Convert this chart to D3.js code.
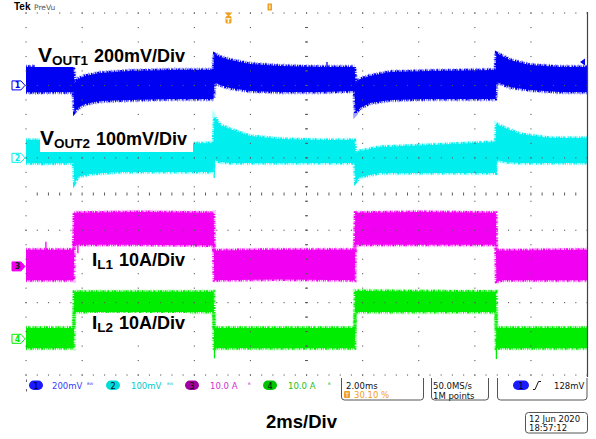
<!DOCTYPE html>
<html>
<head>
<meta charset="utf-8">
<script src="https://cdn.jsdelivr.net/npm/d3@7"></script>
<style>
  html, body { margin: 0; padding: 0; background: #fff; }
  svg { display: block; }
</style>
</head>
<body>
<svg id="scope" width="596" height="439"></svg>
<script>
// ---- Acquisition settings ----
const timeDomainMs = [0, 20];           // 10 div x 2 ms/div
const verticalDomainDiv = [-2.5, 2.5];

// ---- Trace envelopes: [time (ms), upper edge, lower edge] ----
// CH1, VOUT1 in mV (AC coupled, 200 mV/div)
const vout1Env = [
  [0.00, 50.8, -18.2], [0.40, 52.0, -19.5], [1.00, 50.8, -18.0], [1.69, 50.8, -19.0],
  [1.73, 6.6, -73.5], [1.85, 17.7, -62.4], [2.10, 26.0, -51.4], [2.64, 34.2, -43.1],
  [3.71, 39.8, -40.3], [5.13, 42.5, -37.6], [6.68, 42.5, -37.6],
  [6.72, 86.7, 9.4], [6.92, 78.4, 1.1], [7.27, 70.2, -7.2], [7.99, 59.1, -15.5],
  [9.06, 53.6, -18.2], [10.48, 50.8, -18.2], [11.71, 50.8, -15.5],
  [11.75, 6.6, -76.2], [11.91, 17.7, -62.4], [12.26, 26.0, -48.6], [12.98, 37.0, -40.3],
  [14.40, 39.8, -37.6], [16.74, 42.5, -37.6],
  [16.77, 89.5, 9.4], [17.25, 70.2, -4.4], [17.96, 56.3, -12.7], [19.04, 50.8, -18.2],
  [20.00, 50.8, -18.2]
];
// CH2, VOUT2 in mV (AC coupled, 100 mV/div)
const vout2Env = [
  [0.00, 24.6, -7.2], [0.60, 24.6, -8.0], [1.69, 23.2, -7.2],
  [1.73, 8.0, -34.8], [1.85, 10.8, -26.5], [2.28, 13.5, -22.4], [3.35, 16.3, -19.6],
  [5.13, 19.1, -19.6], [6.68, 20.4, -19.6],
  [6.72, 56.3, -3.0], [6.92, 45.3, -5.8], [7.27, 39.8, -7.2], [7.99, 30.1, -7.2],
  [9.06, 26.0, -7.2], [10.48, 24.6, -7.2], [11.71, 24.6, -7.2],
  [11.75, 6.6, -33.4], [11.91, 9.4, -26.5], [12.62, 14.9, -21.0], [14.40, 17.7, -21.0],
  [16.74, 21.8, -21.0],
  [16.77, 46.7, -3.0], [17.08, 41.2, -5.8], [17.61, 32.9, -7.2], [18.68, 27.3, -7.2],
  [20.00, 27.3, -7.2]
];
// CH3, IL1 in A (10 A/div)
const il1Env = [
  [0.00, 2.3, -1.9], [1.70, 2.3, -1.9],
  [1.72, 7.4, 3.0], [4.00, 7.5, 3.0], [6.69, 7.4, 2.9],
  [6.71, 2.2, -1.9], [9.00, 2.3, -1.8], [11.72, 2.3, -1.9],
  [11.74, 7.4, 3.0], [14.00, 7.5, 3.0], [16.75, 7.4, 3.0],
  [16.77, 2.2, -2.1], [17.00, 2.2, -1.9], [20.00, 2.3, -1.9]
];
// CH4, IL2 in A (10 A/div)
const il2Env = [
  [0.00, 1.5, -1.3], [1.70, 1.5, -1.3],
  [1.72, 6.5, 3.7], [6.69, 6.5, 3.7],
  [6.71, 1.5, -1.3], [11.72, 1.5, -1.3],
  [11.74, 6.6, 3.7], [16.75, 6.5, 3.7],
  [16.77, 1.5, -1.3], [20.00, 1.5, -1.3]
];

// ---- Isolated spikes: [time (ms), peak value] ----
const vout1Spikes = [[10.73, 64.6]];
const vout2Spikes = [[6.71, -27.9], [16.76, -23.8]];
const il1Spikes = [[0.71, 3.4], [1.85, 1.8]];
const il2Spikes = [[6.72, -2.7], [16.77, -2.8]];

// ---- Channel settings ----
const channelIds = ["1", "2", "3", "4"];
const channelPerDiv = [200, 100, 10, 10];
const channelOffsetDiv = [1.5, 0.5, -1, -2];
const channelReadouts = ["200mV", "100mV", "10.0 A", "10.0 A"];
const channelColors = ["#0000f2", "#00eeee", "#f200f2", "#00ec00"];
const channelFringe = ["#6060ff", "#90ffff", "#ff90ff", "#90ff90"];

// ---- Annotation text ----
const traceLabelMain = ["V", "V", "I", "I"];
const traceLabelSub = ["OUT1", "OUT2", "L1", "L2"];
const traceLabelScale = ["200mV/Div", "100mV/Div", "10A/Div", "10A/Div"];
const timebaseLabel = "2ms/Div";
const horizontalReadout = ["2.00ms", "30.10 %"];
const acquisitionReadout = ["50.0MS/s", "1M points"];
const triggerReadout = "128mV";
const dateReadout = ["12 Jun  2020", "18:57:12"];

// ---------------------------------------------------------------
const svg = d3.select("#scope");
const x = d3.scaleLinear().domain(timeDomainMs).range([26, 587]);
const y = d3.scaleLinear().domain(verticalDomainDiv).range([375, 13]);
const statusFont = "DejaVu Sans, sans-serif";
const labelFont = "Liberation Sans, Arial, sans-serif";

svg.append("defs").append("clipPath").attr("id", "screen")
  .append("rect").attr("x", 26).attr("y", 12).attr("width", 561).attr("height", 366);

const envs = [vout1Env, vout2Env, il1Env, il2Env];
const spikes = [vout1Spikes, vout2Spikes, il1Spikes, il2Spikes];

const traces = svg.append("g").attr("clip-path", "url(#screen)");

envs.forEach((env, i) => {
  const toY = v => y(channelOffsetDiv[i] + v / channelPerDiv[i]);
  const g = traces.append("g");
  const upper = d3.line().x(d => x(d[0])).y(d => toY(d[1]));
  const lower = d3.line().x(d => x(d[0])).y(d => toY(d[2]));
  // soft fringe and ragged teeth along both edges of the noise band
  [upper, lower].forEach((ln, k) => {
    g.append("path").attr("d", ln(env)).attr("fill", "none")
      .attr("stroke", channelFringe[i]).attr("stroke-width", 5).attr("opacity", 0.6)
      .attr("stroke-dasharray", k ? "0.9 2.1 1.6 1.2 0.7 2.6 1.1 1.5" : "1.3 1.7 0.8 2.4 1.5 1.1 0.6 2.0");
    g.append("path").attr("d", ln(env)).attr("fill", "none")
      .attr("stroke", channelColors[i]).attr("stroke-width", 3.2)
      .attr("stroke-dasharray", k ? "1.1 0.9 0.6 1.5 2.0 0.7 0.9 1.2 0.5 1.7" : "0.8 1.2 1.7 0.6 0.6 1.6 1.2 0.8 2.1 0.9");
  });
  const area = d3.area().x(d => x(d[0])).y0(d => toY(d[2])).y1(d => toY(d[1]));
  g.append("path").attr("d", area(env)).attr("fill", channelColors[i]);
  // isolated spikes, drawn from the band centre out to their peak
  const mid = d3.scaleLinear().domain(env.map(d => d[0])).range(env.map(d => (d[1] + d[2]) / 2));
  g.selectAll("line.spike").data(spikes[i]).join("line")
    .attr("class", "spike")
    .attr("x1", d => x(d[0])).attr("x2", d => x(d[0]))
    .attr("y1", d => toY(mid(d[0]))).attr("y2", d => toY(d[1]))
    .attr("stroke", channelColors[i]).attr("stroke-width", 1.3);
});

// ---- Graticule (drawn over the traces) ----
const grid = svg.append("g").attr("fill", "#5a5a5a");
const xDiv = d3.range(0, 11).map(k => x.invert(26) + k * 2);
const yDiv = d3.range(0, 6).map(k => -2.5 + k);
const xMinor = d3.range(0, 51).map(k => k * 0.4);
const yMinor = d3.range(0, 26).map(k => -2.5 + k * 0.2);
// dotted horizontal lines
yDiv.forEach(v => {
  grid.selectAll(null).data(xMinor).join("rect")
    .attr("x", d => x(d) - 0.5).attr("y", y(v) - 0.5).attr("width", 1.1).attr("height", 1.1);
});
// dotted vertical lines
xDiv.slice(0, 10).forEach(t => {
  grid.selectAll(null).data(yMinor).join("rect")
    .attr("x", x(t) - 0.5).attr("y", d => y(d) - 0.5).attr("width", 1.1).attr("height", 1.1);
});
// centre cross with minor ticks
grid.selectAll(null).data(xMinor.slice(1, 50)).join("rect")
  .attr("x", d => x(d) - 0.5).attr("y", y(0) - 1.5).attr("width", 1).attr("height", 3);
grid.selectAll(null).data(yMinor.slice(1, 25)).join("rect")
  .attr("x", x(10) - 1.5).attr("y", d => y(d) - 0.5).attr("width", 3).attr("height", 1);
// right border
svg.append("line").attr("x1", 587.5).attr("x2", 587.5).attr("y1", 12).attr("y2", 377)
  .attr("stroke", "#444").attr("stroke-width", 1.2);

// ---- Trace annotations with white backing ----
const labelBoxes = [[35, 45, 158, 22], [40, 125, 153, 27], [88, 247, 102, 26], [88, 313, 102, 25]];
const labelPos = [[38, 62], [40, 145], [92, 266], [92, 329]];
const mainSize = [21, 21, 19, 19];
labelBoxes.forEach(b => svg.append("rect").attr("x", b[0]).attr("y", b[1])
  .attr("width", b[2]).attr("height", b[3]).attr("fill", "#fff"));
labelPos.forEach((p, i) => {
  const t = svg.append("text").attr("x", p[0]).attr("y", p[1])
    .attr("font-family", labelFont).attr("font-weight", "bold").attr("fill", "#000");
  t.append("tspan").attr("font-size", mainSize[i]).text(traceLabelMain[i]);
  t.append("tspan").attr("font-size", 13.5).attr("dy", 2.5).text(traceLabelSub[i]);
  t.append("tspan").attr("font-size", 18).attr("dy", -3).attr("dx", 6).text(traceLabelScale[i]);
});

// ---- Channel ground markers on the left edge ----
channelIds.forEach((id, i) => {
  const my = y(channelOffsetDiv[i]);
  const filled = i === 2;
  svg.append("path")
    .attr("d", `M12,${my - 4.5}H21L25,${my}L21,${my + 4.5}H12Z`)
    .attr("fill", filled ? channelColors[i] : "#fff")
    .attr("stroke", channelColors[i]).attr("stroke-width", 1);
  svg.append("text").attr("x", 17.5).attr("y", my + 3).attr("text-anchor", "middle")
    .attr("font-family", statusFont).attr("font-size", 8).attr("font-weight", "bold")
    .attr("fill", filled ? "#202020" : channelColors[i]).text(id);
});

// ---- Top bar ----
svg.append("text").attr("x", 14).attr("y", 10).attr("font-family", labelFont)
  .attr("font-weight", "bold").attr("font-size", 10).attr("fill", "#000").text("Tek");
svg.append("text").attr("x", 34).attr("y", 10).attr("font-family", statusFont)
  .attr("font-size", 7.5).attr("fill", "#555").text("PreVu");
// expansion point and trigger position markers
svg.append("rect").attr("x", 267.5).attr("y", 3.5).attr("width", 4.5).attr("height", 7)
  .attr("fill", "#f0a020");
svg.append("rect").attr("x", 269).attr("y", 5).attr("width", 1.5).attr("height", 4).attr("fill", "#ffe0a0");
svg.append("path").attr("d", "M224.5,12.5H232.5L228.5,16.5Z").attr("fill", "#f0a020");
svg.append("rect").attr("x", 225.5).attr("y", 16).attr("width", 6).attr("height", 7.5).attr("rx", 1.5)
  .attr("fill", "#f0a020");
svg.append("text").attr("x", 228.5).attr("y", 22.5).attr("text-anchor", "middle")
  .attr("font-family", statusFont).attr("font-size", 6.5).attr("font-weight", "bold")
  .attr("fill", "#fff").text("T");
// trigger level arrow on the right edge
svg.append("path").attr("d", "M580,62L585,58.5V65.5Z").attr("fill", channelColors[0]);

// ---- Status bar ----
const status = svg.append("g").attr("font-family", statusFont).attr("font-size", 8.5);
const pillX = [29, 106, 185, 263];
const readX = [52, 131, 210, 288];
const bwX = [87, 167, 248, 328];
const pillFill = ["#1a1aff", "#00dcdc", "#a000a0", "#00c400"];
const readFill = ["#3a3aff", "#00cccc", "#d030d0", "#20c020"];
channelIds.forEach((id, i) => {
  status.append("rect").attr("x", pillX[i]).attr("y", 380.5).attr("width", 14).attr("height", 9.5)
    .attr("rx", 4.75).attr("fill", pillFill[i]);
  status.append("text").attr("x", pillX[i] + 7).attr("y", 388.5).attr("text-anchor", "middle")
    .attr("font-size", 8).attr("fill", "#000").text(id);
  status.append("text").attr("x", readX[i]).attr("y", 389).attr("fill", readFill[i]).text(channelReadouts[i]);
  status.append("text").attr("x", bwX[i]).attr("y", 387).attr("font-size", 6)
    .attr("fill", readFill[i]).text(i < 2 ? "ᴮᵂ" : "ᴮ");
});
// readout brackets
const bracket = (x0, x1, y0, y1) => `M${x0},${y0}V${y1 - 3}Q${x0},${y1} ${x0 + 3},${y1}H${x1 - 3}Q${x1},${y1} ${x1},${y1 - 3}V${y0}`;
status.append("path").attr("d", "M26.5,379.5V382M26.5,389V391.5")
  .attr("stroke", "#666").attr("fill", "none");
[[341, 424], [431, 489], [497, 587.5]].forEach(b => {
  status.append("path").attr("d", bracket(b[0] + 0.5, b[1] - 0.5, 378, 400))
    .attr("fill", "none").attr("stroke", "#555").attr("stroke-width", 1);
});
status.append("text").attr("x", 346).attr("y", 389).attr("fill", "#111").text(horizontalReadout[0]);
status.append("rect").attr("x", 344).attr("y", 391).attr("width", 6).attr("height", 7).attr("rx", 1)
  .attr("fill", "#f0a020");
status.append("text").attr("x", 347).attr("y", 397.3).attr("text-anchor", "middle")
  .attr("font-size", 6).attr("fill", "#fff").text("T");
status.append("text").attr("x", 354).attr("y", 398).attr("fill", "#f0a020").text(horizontalReadout[1]);
status.append("text").attr("x", 433).attr("y", 389).attr("fill", "#111").text(acquisitionReadout[0]);
status.append("text").attr("x", 433).attr("y", 398.5).attr("fill", "#111").text(acquisitionReadout[1]);
status.append("rect").attr("x", 513).attr("y", 380.5).attr("width", 16).attr("height", 9.5)
  .attr("rx", 4.75).attr("fill", pillFill[0]);
status.append("text").attr("x", 521).attr("y", 388.5).attr("text-anchor", "middle")
  .attr("font-size", 8).attr("fill", "#000").text(channelIds[0]);
status.append("path").attr("d", "M533,389.5H535L538.5,381.5H541").attr("fill", "none")
  .attr("stroke", "#111").attr("stroke-width", 1);
status.append("text").attr("x", 554).attr("y", 389).attr("fill", "#111").text(triggerReadout);

// date box
status.append("rect").attr("x", 525.5).attr("y", 412.5).attr("width", 62).attr("height", 20.5)
  .attr("rx", 3).attr("fill", "none").attr("stroke", "#555");
status.append("text").attr("x", 529).attr("y", 421.5).attr("fill", "#111").text(dateReadout[0]);
status.append("text").attr("x", 529).attr("y", 431).attr("fill", "#111").text(dateReadout[1]);

// timebase caption
svg.append("text").attr("x", 266).attr("y", 428).attr("font-family", labelFont)
  .attr("font-weight", "bold").attr("font-size", 18.5).attr("fill", "#000").text(timebaseLabel);
</script>
</body>
</html>
